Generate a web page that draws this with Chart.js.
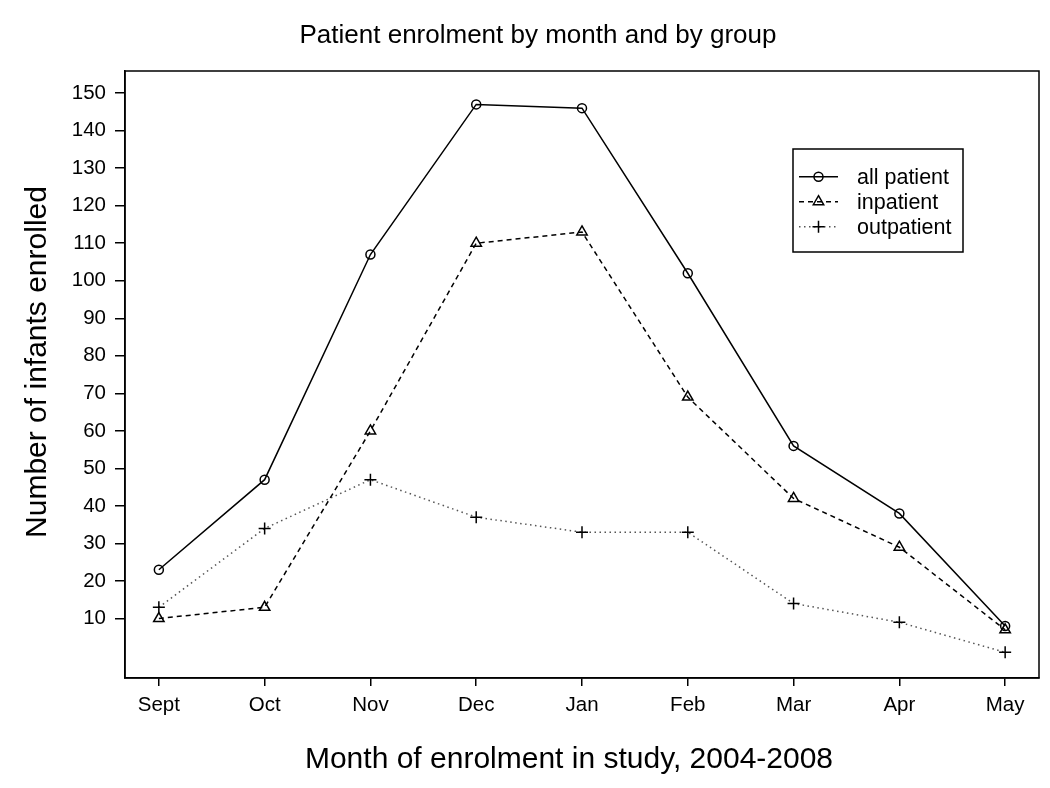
<!DOCTYPE html>
<html>
<head>
<meta charset="utf-8">
<script src="https://cdn.jsdelivr.net/npm/chart.js@4.4.1/dist/chart.umd.min.js"></script>
<style>
  html, body { margin: 0; padding: 0; background: #fff; }
  #wrap { width: 1050px; height: 788px; }
</style>
</head>
<body>
<div id="wrap"><canvas id="c" width="1050" height="788"></canvas></div>
<script>
// ---- data ----
const months = ['Sept', 'Oct', 'Nov', 'Dec', 'Jan', 'Feb', 'Mar', 'Apr', 'May'];
const allPatient = [23, 47, 107, 147, 146, 102, 56, 38, 8];
const inpatient = [10, 13, 60, 110, 113, 69, 42, 29, 7];
const outpatient = [13, 34, 47, 37, 33, 33, 14, 9, 1];
const yTicks = [10, 20, 30, 40, 50, 60, 70, 80, 90, 100, 110, 120, 130, 140, 150];
const seriesNames = ['all patient', 'inpatient', 'outpatient'];
const chartTitle = 'Patient enrolment by month and by group';
const xTitle = 'Month of enrolment in study, 2004-2008';
const yTitle = 'Number of infants enrolled';

const FONT = "'Liberation Sans', Arial, Helvetica, sans-serif";

function pts(arr) { return arr.map((v, i) => ({ x: i, y: v })); }

const styles = [
  { pointStyle: 'circle', pointRadius: 4.5, borderDash: [], color: '#000' },
  { pointStyle: 'triangle', pointRadius: 6, borderDash: [5, 4], color: '#000' },
  { pointStyle: 'cross', pointRadius: 6, borderDash: [1.5, 3.5], color: '#555' }
];
const seriesData = [allPatient, inpatient, outpatient];

const datasets = seriesData.map((d, k) => ({
  label: seriesNames[k],
  data: pts(d),
  borderColor: styles[k].color,
  borderWidth: 1.5,
  borderDash: styles[k].borderDash,
  tension: 0,
  fill: false,
  pointStyle: styles[k].pointStyle,
  pointRadius: styles[k].pointRadius,
  pointBorderColor: '#000',
  pointBackgroundColor: 'rgba(0,0,0,0)',
  pointBorderWidth: 1.5
}));

function drawSymbol(ctx, style, x, y, r) {
  ctx.save();
  ctx.setLineDash([]);
  ctx.strokeStyle = '#000';
  ctx.lineWidth = 1.5;
  ctx.beginPath();
  if (style === 'circle') {
    ctx.arc(x, y, r, 0, Math.PI * 2);
  } else if (style === 'triangle') {
    ctx.moveTo(x, y - r);
    ctx.lineTo(x + r * 0.866, y + r * 0.5);
    ctx.lineTo(x - r * 0.866, y + r * 0.5);
    ctx.closePath();
  } else {
    ctx.moveTo(x - r, y); ctx.lineTo(x + r, y);
    ctx.moveTo(x, y - r); ctx.lineTo(x, y + r);
  }
  ctx.stroke();
  ctx.restore();
}

const decor = {
  id: 'decor',
  afterDraw(chart) {
    const ctx = chart.ctx;
    const a = chart.chartArea;
    ctx.save();
    // frame
    ctx.strokeStyle = '#000';
    ctx.lineWidth = 1.5;
    ctx.setLineDash([]);
    ctx.strokeRect(a.left, a.top, a.right - a.left, a.bottom - a.top);
    // titles
    ctx.fillStyle = '#000';
    ctx.textAlign = 'center';
    ctx.textBaseline = 'alphabetic';
    ctx.font = '26px ' + FONT;
    ctx.fillText(chartTitle, 538, 43);
    ctx.font = '30px ' + FONT;
    ctx.fillText(xTitle, 569, 767.5);
    ctx.save();
    ctx.translate(46, 362);
    ctx.rotate(-Math.PI / 2);
    ctx.fillText(yTitle, 0, 0);
    ctx.restore();
    // legend
    const lx = 793, ly = 149, lw = 170, lh = 103;
    ctx.fillStyle = '#fff';
    ctx.fillRect(lx, ly, lw, lh);
    ctx.strokeRect(lx, ly, lw, lh);
    ctx.font = '21.5px ' + FONT;
    ctx.textAlign = 'left';
    ctx.textBaseline = 'middle';
    const rowsY = [176.7, 201.7, 226.7];
    seriesNames.forEach((name, k) => {
      const y = rowsY[k];
      ctx.save();
      ctx.strokeStyle = styles[k].color;
      ctx.lineWidth = 1.5;
      ctx.setLineDash(styles[k].borderDash);
      ctx.beginPath();
      ctx.moveTo(799, y);
      ctx.lineTo(838, y);
      ctx.stroke();
      ctx.restore();
      drawSymbol(ctx, styles[k].pointStyle, 818.5, y, k === 0 ? 4.5 : 6);
      ctx.fillStyle = '#000';
      ctx.fillText(name, 857, y + 1);
    });
    ctx.restore();
  }
};

new Chart(document.getElementById('c'), {
  type: 'line',
  data: { datasets },
  plugins: [decor],
  options: {
    responsive: false,
    devicePixelRatio: 1,
    animation: false,
    layout: { padding: { top: 71, right: 11, bottom: 0, left: 0 } },
    plugins: {
      legend: { display: false },
      title: { display: false },
      tooltip: { enabled: false }
    },
    scales: {
      x: {
        type: 'linear',
        min: -0.32,
        max: 8.32,
        afterBuildTicks: (s) => { s.ticks = months.map((m, i) => ({ value: i })); },
        afterFit: (s) => { s.height = 110; },
        ticks: {
          callback: (v) => months[v],
          font: { family: FONT, size: 20.5 },
          color: '#000',
          padding: 7,
          maxRotation: 0,
          autoSkip: false
        },
        grid: { display: true, drawOnChartArea: false, drawTicks: true, tickLength: 8, color: '#000', lineWidth: 1.5 },
        border: { display: true, color: '#000', width: 1.5 }
      },
      y: {
        type: 'linear',
        min: -5.85,
        max: 155.9,
        afterBuildTicks: (s) => { s.ticks = yTicks.map(v => ({ value: v })); },
        afterFit: (s) => { s.width = 125; },
        ticks: {
          font: { family: FONT, size: 20.5 },
          color: '#000',
          padding: 9,
          autoSkip: false
        },
        grid: { display: true, drawOnChartArea: false, drawTicks: true, tickLength: 10, color: '#000', lineWidth: 1.5 },
        border: { display: true, color: '#000', width: 1.5 }
      }
    }
  }
});
</script>
</body>
</html>
